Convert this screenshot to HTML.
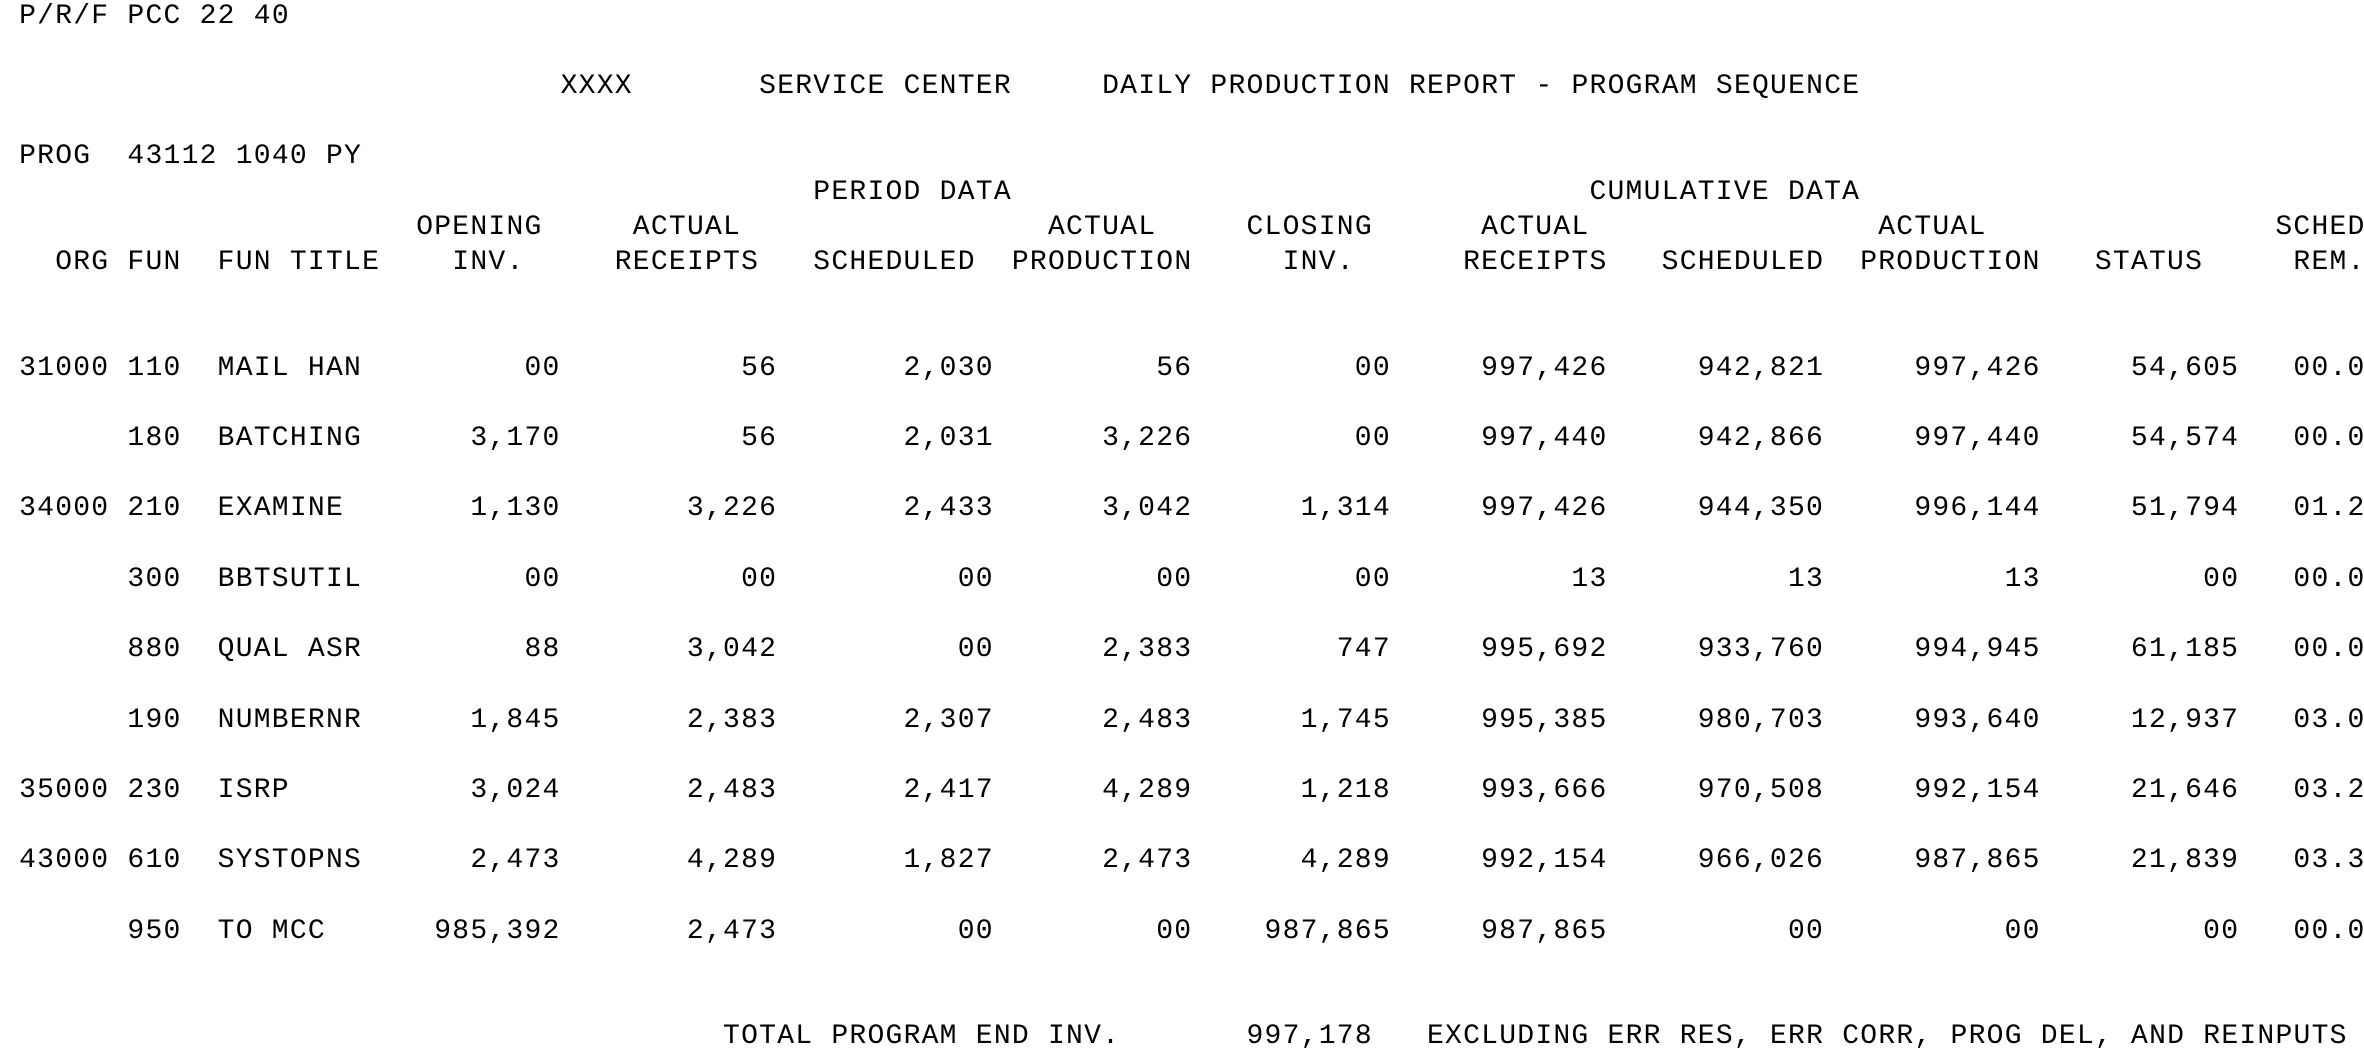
<!DOCTYPE html>
<html>
<head>
<meta charset="utf-8">
<style>
html,body{margin:0;padding:0;}
body{width:2364px;height:1047px;overflow:hidden;background:#fff;position:relative;}
.ln{position:absolute;left:0;top:calc(var(--l) * 35.2px - 1.5px);height:35.2px;line-height:35.2px;width:2364px;
font-family:"Liberation Mono","DejaVu Sans Mono",monospace;font-size:28px;letter-spacing:1.25px;color:#000;white-space:pre;}
.ln span{position:absolute;top:0;left:calc(19.1px + var(--c) * 18.05px);}
.ln span.r{left:calc(19.1px + var(--e) * 18.05px);transform:translateX(-100%);}
</style>
</head>
<body>
<div class="ln" style="--l:0"><span style="--c:0">P/R/F PCC 22 40</span></div>
<div class="ln" style="--l:2"><span style="--c:30">XXXX</span><span style="--c:41">SERVICE CENTER</span><span style="--c:60">DAILY PRODUCTION REPORT - PROGRAM SEQUENCE</span></div>
<div class="ln" style="--l:4"><span style="--c:0">PROG  43112 1040 PY</span></div>
<div class="ln" style="--l:5"><span style="--c:44">PERIOD DATA</span><span style="--c:87">CUMULATIVE DATA</span></div>
<div class="ln" style="--l:6"><span style="--c:22">OPENING</span><span style="--c:34">ACTUAL</span><span style="--c:57">ACTUAL</span><span style="--c:68">CLOSING</span><span style="--c:81">ACTUAL</span><span style="--c:103">ACTUAL</span><span style="--c:125">SCHED</span></div>
<div class="ln" style="--l:7"><span style="--c:2">ORG</span><span style="--c:6">FUN</span><span style="--c:11">FUN TITLE</span><span style="--c:24">INV.</span><span style="--c:33">RECEIPTS</span><span style="--c:44">SCHEDULED</span><span style="--c:55">PRODUCTION</span><span style="--c:70">INV.</span><span style="--c:80">RECEIPTS</span><span style="--c:91">SCHEDULED</span><span style="--c:102">PRODUCTION</span><span style="--c:115">STATUS</span><span style="--c:126">REM.</span></div>

<div class="ln" style="--l:10"><span style="--c:0">31000</span><span style="--c:6">110</span><span style="--c:11">MAIL HAN</span><span class="r" style="--e:30">00</span><span class="r" style="--e:42">56</span><span class="r" style="--e:54">2,030</span><span class="r" style="--e:65">56</span><span class="r" style="--e:76">00</span><span class="r" style="--e:88">997,426</span><span class="r" style="--e:100">942,821</span><span class="r" style="--e:112">997,426</span><span class="r" style="--e:123">54,605</span><span style="--c:126">00.0</span></div>

<div class="ln" style="--l:12"><span style="--c:6">180</span><span style="--c:11">BATCHING</span><span class="r" style="--e:30">3,170</span><span class="r" style="--e:42">56</span><span class="r" style="--e:54">2,031</span><span class="r" style="--e:65">3,226</span><span class="r" style="--e:76">00</span><span class="r" style="--e:88">997,440</span><span class="r" style="--e:100">942,866</span><span class="r" style="--e:112">997,440</span><span class="r" style="--e:123">54,574</span><span style="--c:126">00.0</span></div>

<div class="ln" style="--l:14"><span style="--c:0">34000</span><span style="--c:6">210</span><span style="--c:11">EXAMINE</span><span class="r" style="--e:30">1,130</span><span class="r" style="--e:42">3,226</span><span class="r" style="--e:54">2,433</span><span class="r" style="--e:65">3,042</span><span class="r" style="--e:76">1,314</span><span class="r" style="--e:88">997,426</span><span class="r" style="--e:100">944,350</span><span class="r" style="--e:112">996,144</span><span class="r" style="--e:123">51,794</span><span style="--c:126">01.2</span></div>

<div class="ln" style="--l:16"><span style="--c:6">300</span><span style="--c:11">BBTSUTIL</span><span class="r" style="--e:30">00</span><span class="r" style="--e:42">00</span><span class="r" style="--e:54">00</span><span class="r" style="--e:65">00</span><span class="r" style="--e:76">00</span><span class="r" style="--e:88">13</span><span class="r" style="--e:100">13</span><span class="r" style="--e:112">13</span><span class="r" style="--e:123">00</span><span style="--c:126">00.0</span></div>

<div class="ln" style="--l:18"><span style="--c:6">880</span><span style="--c:11">QUAL ASR</span><span class="r" style="--e:30">88</span><span class="r" style="--e:42">3,042</span><span class="r" style="--e:54">00</span><span class="r" style="--e:65">2,383</span><span class="r" style="--e:76">747</span><span class="r" style="--e:88">995,692</span><span class="r" style="--e:100">933,760</span><span class="r" style="--e:112">994,945</span><span class="r" style="--e:123">61,185</span><span style="--c:126">00.0</span></div>

<div class="ln" style="--l:20"><span style="--c:6">190</span><span style="--c:11">NUMBERNR</span><span class="r" style="--e:30">1,845</span><span class="r" style="--e:42">2,383</span><span class="r" style="--e:54">2,307</span><span class="r" style="--e:65">2,483</span><span class="r" style="--e:76">1,745</span><span class="r" style="--e:88">995,385</span><span class="r" style="--e:100">980,703</span><span class="r" style="--e:112">993,640</span><span class="r" style="--e:123">12,937</span><span style="--c:126">03.0</span></div>

<div class="ln" style="--l:22"><span style="--c:0">35000</span><span style="--c:6">230</span><span style="--c:11">ISRP</span><span class="r" style="--e:30">3,024</span><span class="r" style="--e:42">2,483</span><span class="r" style="--e:54">2,417</span><span class="r" style="--e:65">4,289</span><span class="r" style="--e:76">1,218</span><span class="r" style="--e:88">993,666</span><span class="r" style="--e:100">970,508</span><span class="r" style="--e:112">992,154</span><span class="r" style="--e:123">21,646</span><span style="--c:126">03.2</span></div>

<div class="ln" style="--l:24"><span style="--c:0">43000</span><span style="--c:6">610</span><span style="--c:11">SYSTOPNS</span><span class="r" style="--e:30">2,473</span><span class="r" style="--e:42">4,289</span><span class="r" style="--e:54">1,827</span><span class="r" style="--e:65">2,473</span><span class="r" style="--e:76">4,289</span><span class="r" style="--e:88">992,154</span><span class="r" style="--e:100">966,026</span><span class="r" style="--e:112">987,865</span><span class="r" style="--e:123">21,839</span><span style="--c:126">03.3</span></div>

<div class="ln" style="--l:26"><span style="--c:6">950</span><span style="--c:11">TO MCC</span><span class="r" style="--e:30">985,392</span><span class="r" style="--e:42">2,473</span><span class="r" style="--e:54">00</span><span class="r" style="--e:65">00</span><span class="r" style="--e:76">987,865</span><span class="r" style="--e:88">987,865</span><span class="r" style="--e:100">00</span><span class="r" style="--e:112">00</span><span class="r" style="--e:123">00</span><span style="--c:126">00.0</span></div>

<div class="ln" style="--l:29"><span style="--c:39">TOTAL PROGRAM END INV.</span><span style="--c:68">997,178</span><span style="--c:78">EXCLUDING ERR RES, ERR CORR, PROG DEL, AND REINPUTS</span></div>
</body>
</html>
